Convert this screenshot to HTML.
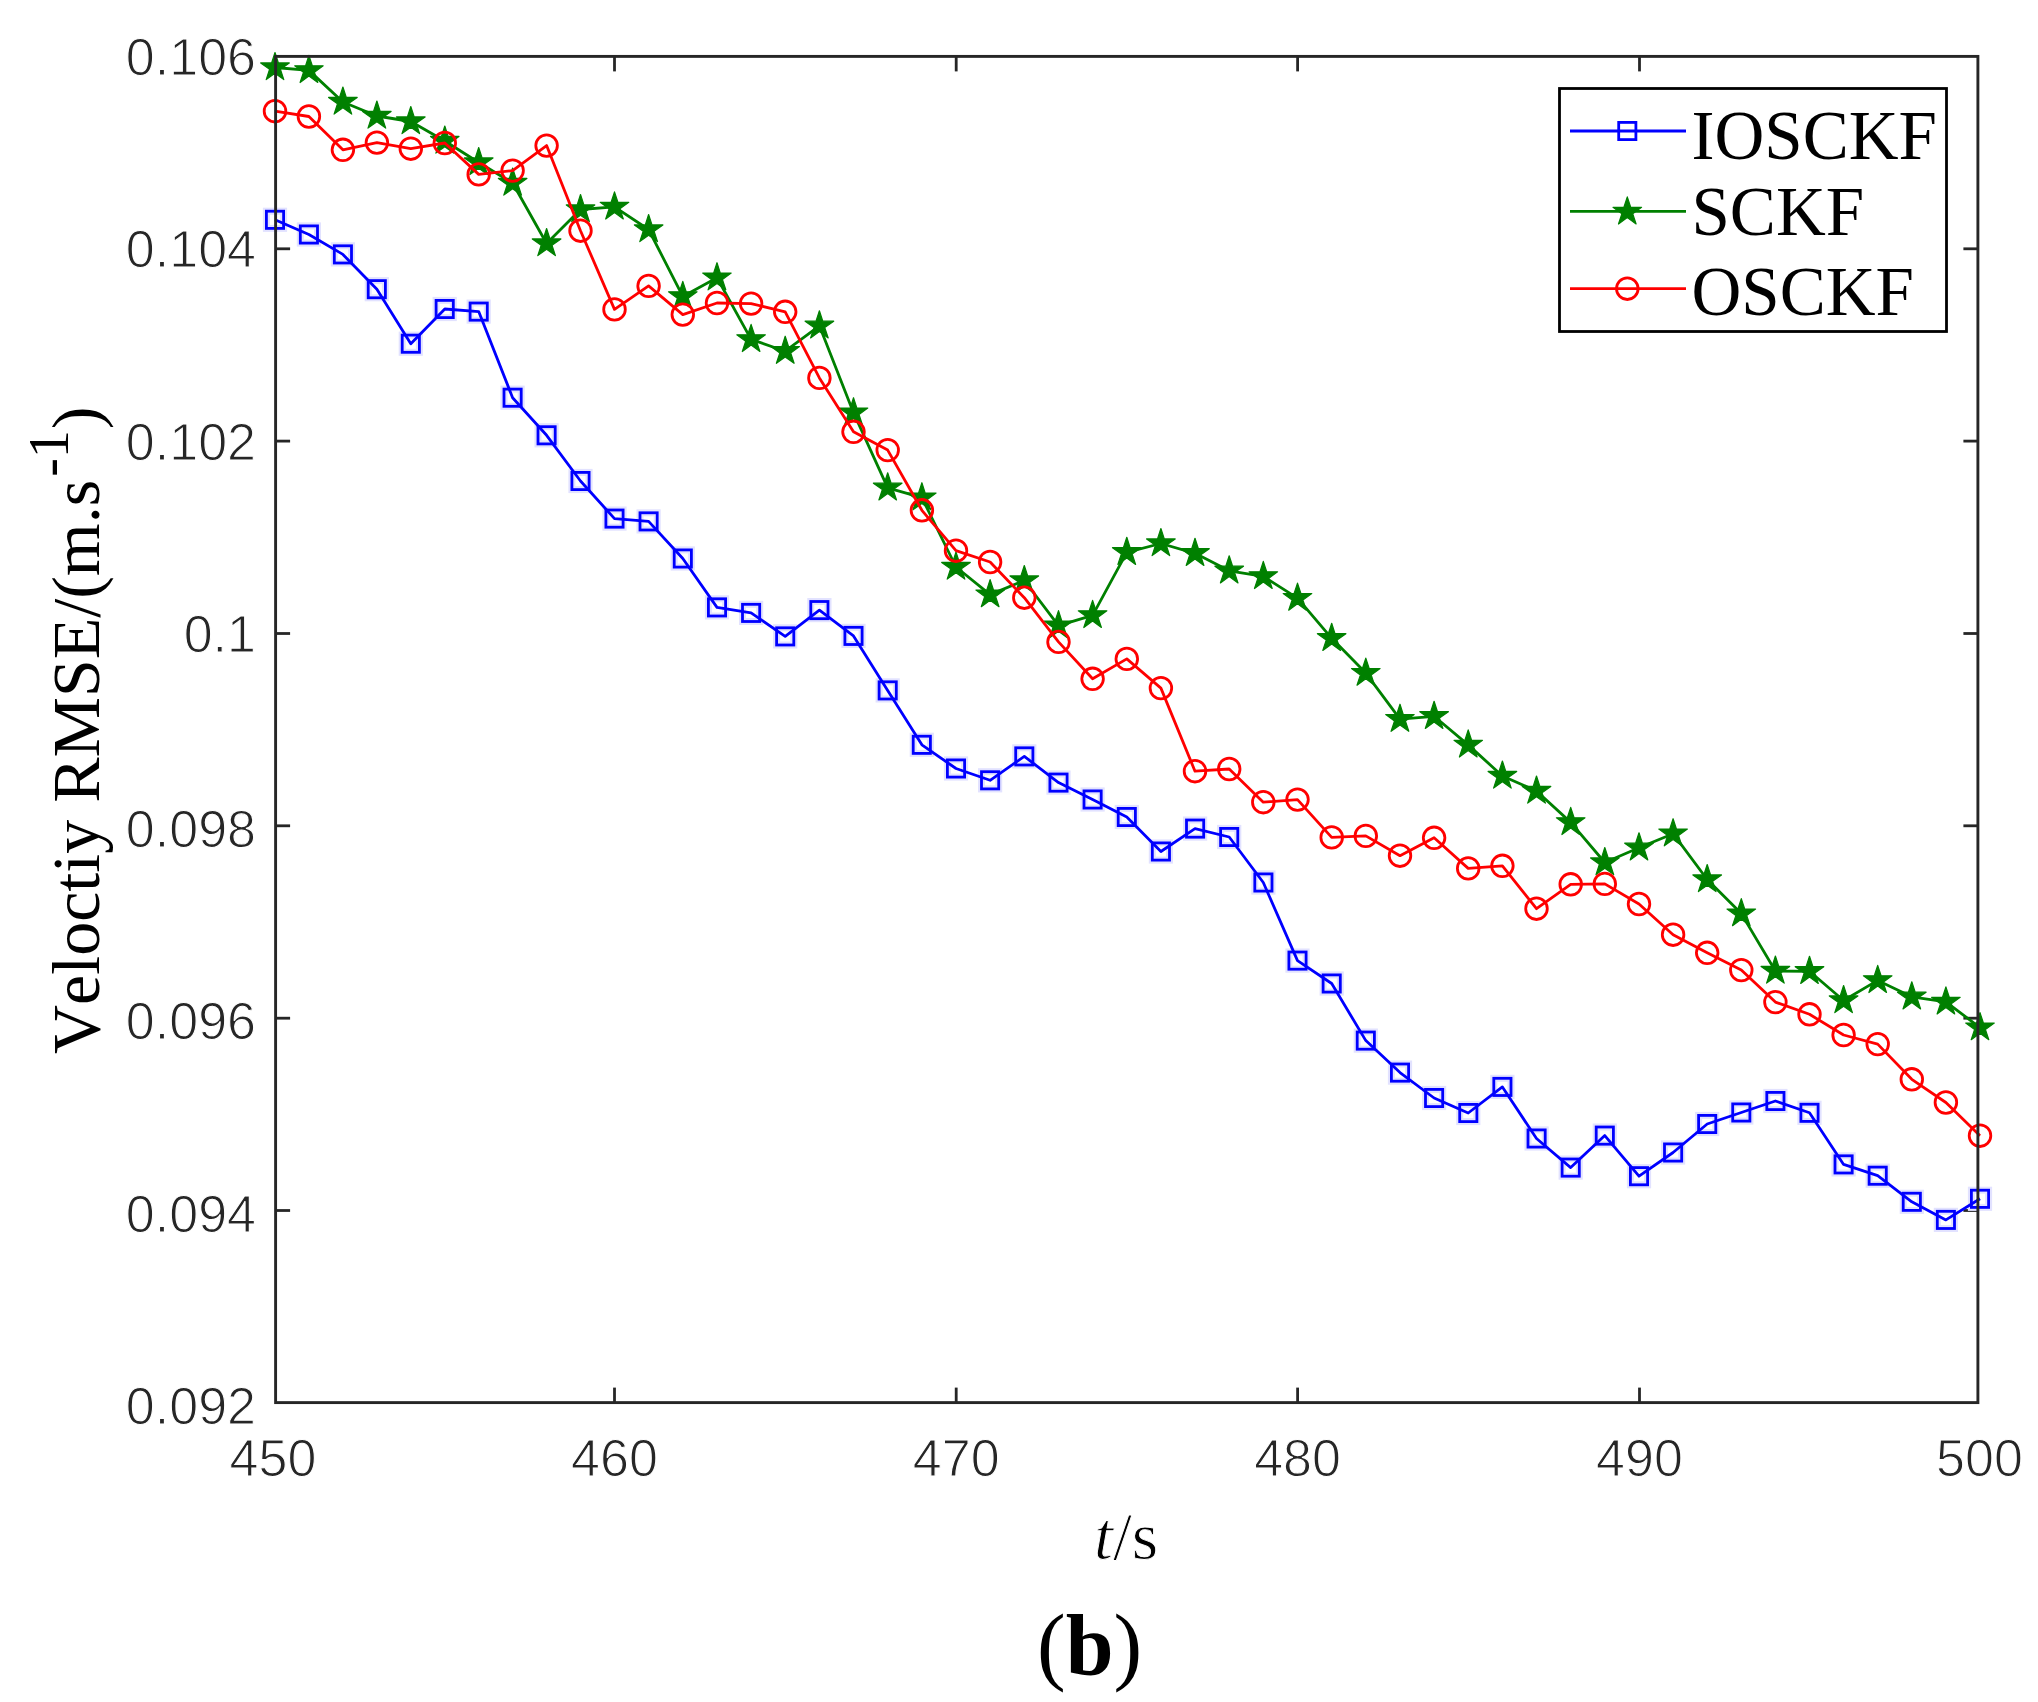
<!DOCTYPE html>
<html><head><meta charset="utf-8"><title>Velocity RMSE</title>
<style>html,body{margin:0;padding:0;background:#fff;}text{font-kerning:none;}svg{display:block;filter:blur(0.6px);}.tk{font-family:"Liberation Sans",Arial,sans-serif;font-size:52px;fill:#262626;stroke:#fff;stroke-width:1.1px;}.lb{font-family:"Liberation Serif","Times New Roman",serif;font-size:68px;fill:#000;}.lg{font-family:"Liberation Serif","Times New Roman",serif;font-size:69px;fill:#000;}</style></head><body>
<svg width="2038" height="1702" viewBox="0 0 2038 1702">
<rect x="0" y="0" width="2038" height="1702" fill="#fff"/>
<g stroke="#262626" stroke-width="2.8" fill="none"><line x1="614.5" y1="1402.6" x2="614.5" y2="1387.6"/><line x1="614.5" y1="56.4" x2="614.5" y2="71.4"/><line x1="956.2" y1="1402.6" x2="956.2" y2="1387.6"/><line x1="956.2" y1="56.4" x2="956.2" y2="71.4"/><line x1="1297.6" y1="1402.6" x2="1297.6" y2="1387.6"/><line x1="1297.6" y1="56.4" x2="1297.6" y2="71.4"/><line x1="1639.5" y1="1402.6" x2="1639.5" y2="1387.6"/><line x1="1639.5" y1="56.4" x2="1639.5" y2="71.4"/><line x1="275.6" y1="248.8" x2="290.1" y2="248.8"/><line x1="1977.9" y1="248.8" x2="1963.4" y2="248.8"/><line x1="275.6" y1="441.1" x2="290.1" y2="441.1"/><line x1="1977.9" y1="441.1" x2="1963.4" y2="441.1"/><line x1="275.6" y1="633.5" x2="290.1" y2="633.5"/><line x1="1977.9" y1="633.5" x2="1963.4" y2="633.5"/><line x1="275.6" y1="825.8" x2="290.1" y2="825.8"/><line x1="1977.9" y1="825.8" x2="1963.4" y2="825.8"/><line x1="275.6" y1="1018.2" x2="290.1" y2="1018.2"/><line x1="1977.9" y1="1018.2" x2="1963.4" y2="1018.2"/><line x1="275.6" y1="1210.5" x2="290.1" y2="1210.5"/><line x1="1977.9" y1="1210.5" x2="1963.4" y2="1210.5"/></g>
<g>
<g fill="none" stroke="#e2e2ff" stroke-width="7"><rect x="266.4" y="211.2" width="17.2" height="17.2"/><rect x="300.3" y="225.9" width="17.2" height="17.2"/><rect x="334.3" y="245.8" width="17.2" height="17.2"/><rect x="368.2" y="280.6" width="17.2" height="17.2"/><rect x="402.2" y="335.1" width="17.2" height="17.2"/><rect x="436.1" y="300.4" width="17.2" height="17.2"/><rect x="470.1" y="303.0" width="17.2" height="17.2"/><rect x="504.0" y="389.1" width="17.2" height="17.2"/><rect x="538.0" y="426.7" width="17.2" height="17.2"/><rect x="571.9" y="472.4" width="17.2" height="17.2"/><rect x="605.9" y="510.0" width="17.2" height="17.2"/><rect x="640.0" y="512.8" width="17.2" height="17.2"/><rect x="674.2" y="549.9" width="17.2" height="17.2"/><rect x="708.4" y="598.8" width="17.2" height="17.2"/><rect x="742.5" y="604.3" width="17.2" height="17.2"/><rect x="776.6" y="627.8" width="17.2" height="17.2"/><rect x="810.8" y="601.5" width="17.2" height="17.2"/><rect x="844.9" y="627.3" width="17.2" height="17.2"/><rect x="879.1" y="681.8" width="17.2" height="17.2"/><rect x="913.2" y="736.2" width="17.2" height="17.2"/><rect x="947.4" y="759.9" width="17.2" height="17.2"/><rect x="981.5" y="771.7" width="17.2" height="17.2"/><rect x="1015.7" y="747.8" width="17.2" height="17.2"/><rect x="1049.9" y="774.0" width="17.2" height="17.2"/><rect x="1084.0" y="790.9" width="17.2" height="17.2"/><rect x="1118.2" y="808.4" width="17.2" height="17.2"/><rect x="1152.3" y="842.9" width="17.2" height="17.2"/><rect x="1186.5" y="820.0" width="17.2" height="17.2"/><rect x="1220.6" y="828.4" width="17.2" height="17.2"/><rect x="1254.8" y="873.9" width="17.2" height="17.2"/><rect x="1288.9" y="952.0" width="17.2" height="17.2"/><rect x="1323.1" y="974.9" width="17.2" height="17.2"/><rect x="1357.2" y="1032.0" width="17.2" height="17.2"/><rect x="1391.4" y="1064.0" width="17.2" height="17.2"/><rect x="1425.5" y="1089.4" width="17.2" height="17.2"/><rect x="1459.7" y="1104.4" width="17.2" height="17.2"/><rect x="1493.8" y="1078.3" width="17.2" height="17.2"/><rect x="1528.0" y="1129.9" width="17.2" height="17.2"/><rect x="1562.1" y="1159.0" width="17.2" height="17.2"/><rect x="1596.2" y="1127.0" width="17.2" height="17.2"/><rect x="1630.4" y="1167.6" width="17.2" height="17.2"/><rect x="1664.5" y="1143.9" width="17.2" height="17.2"/><rect x="1698.6" y="1115.4" width="17.2" height="17.2"/><rect x="1732.7" y="1103.9" width="17.2" height="17.2"/><rect x="1766.8" y="1092.4" width="17.2" height="17.2"/><rect x="1800.9" y="1104.2" width="17.2" height="17.2"/><rect x="1835.0" y="1155.8" width="17.2" height="17.2"/><rect x="1869.1" y="1167.1" width="17.2" height="17.2"/><rect x="1903.2" y="1193.2" width="17.2" height="17.2"/><rect x="1937.3" y="1211.3" width="17.2" height="17.2"/><rect x="1971.4" y="1190.2" width="17.2" height="17.2"/></g>
<polyline points="275.0,219.8 308.9,234.5 342.9,254.4 376.9,289.2 410.8,343.7 444.8,309.0 478.7,311.6 512.6,397.7 546.6,435.3 580.5,481.0 614.5,518.6 648.6,521.4 682.8,558.5 717.0,607.4 751.1,612.9 785.2,636.4 819.4,610.1 853.5,635.9 887.7,690.4 921.9,744.8 956.0,768.5 990.1,780.3 1024.3,756.4 1058.5,782.6 1092.6,799.5 1126.8,817.0 1160.9,851.5 1195.0,828.6 1229.2,837.0 1263.3,882.5 1297.5,960.6 1331.7,983.5 1365.8,1040.6 1400.0,1072.6 1434.1,1098.0 1468.2,1113.0 1502.4,1086.9 1536.5,1138.5 1570.7,1167.6 1604.8,1135.6 1639.0,1176.2 1673.1,1152.5 1707.2,1124.0 1741.3,1112.5 1775.4,1101.0 1809.5,1112.8 1843.6,1164.4 1877.7,1175.7 1911.8,1201.8 1945.9,1219.9 1980.0,1198.8" fill="none" stroke="#0000ff" stroke-width="2.8" stroke-linejoin="round"/>
<g fill="none" stroke="#0000ff" stroke-width="2.8"><rect x="266.4" y="211.2" width="17.2" height="17.2"/><rect x="300.3" y="225.9" width="17.2" height="17.2"/><rect x="334.3" y="245.8" width="17.2" height="17.2"/><rect x="368.2" y="280.6" width="17.2" height="17.2"/><rect x="402.2" y="335.1" width="17.2" height="17.2"/><rect x="436.1" y="300.4" width="17.2" height="17.2"/><rect x="470.1" y="303.0" width="17.2" height="17.2"/><rect x="504.0" y="389.1" width="17.2" height="17.2"/><rect x="538.0" y="426.7" width="17.2" height="17.2"/><rect x="571.9" y="472.4" width="17.2" height="17.2"/><rect x="605.9" y="510.0" width="17.2" height="17.2"/><rect x="640.0" y="512.8" width="17.2" height="17.2"/><rect x="674.2" y="549.9" width="17.2" height="17.2"/><rect x="708.4" y="598.8" width="17.2" height="17.2"/><rect x="742.5" y="604.3" width="17.2" height="17.2"/><rect x="776.6" y="627.8" width="17.2" height="17.2"/><rect x="810.8" y="601.5" width="17.2" height="17.2"/><rect x="844.9" y="627.3" width="17.2" height="17.2"/><rect x="879.1" y="681.8" width="17.2" height="17.2"/><rect x="913.2" y="736.2" width="17.2" height="17.2"/><rect x="947.4" y="759.9" width="17.2" height="17.2"/><rect x="981.5" y="771.7" width="17.2" height="17.2"/><rect x="1015.7" y="747.8" width="17.2" height="17.2"/><rect x="1049.9" y="774.0" width="17.2" height="17.2"/><rect x="1084.0" y="790.9" width="17.2" height="17.2"/><rect x="1118.2" y="808.4" width="17.2" height="17.2"/><rect x="1152.3" y="842.9" width="17.2" height="17.2"/><rect x="1186.5" y="820.0" width="17.2" height="17.2"/><rect x="1220.6" y="828.4" width="17.2" height="17.2"/><rect x="1254.8" y="873.9" width="17.2" height="17.2"/><rect x="1288.9" y="952.0" width="17.2" height="17.2"/><rect x="1323.1" y="974.9" width="17.2" height="17.2"/><rect x="1357.2" y="1032.0" width="17.2" height="17.2"/><rect x="1391.4" y="1064.0" width="17.2" height="17.2"/><rect x="1425.5" y="1089.4" width="17.2" height="17.2"/><rect x="1459.7" y="1104.4" width="17.2" height="17.2"/><rect x="1493.8" y="1078.3" width="17.2" height="17.2"/><rect x="1528.0" y="1129.9" width="17.2" height="17.2"/><rect x="1562.1" y="1159.0" width="17.2" height="17.2"/><rect x="1596.2" y="1127.0" width="17.2" height="17.2"/><rect x="1630.4" y="1167.6" width="17.2" height="17.2"/><rect x="1664.5" y="1143.9" width="17.2" height="17.2"/><rect x="1698.6" y="1115.4" width="17.2" height="17.2"/><rect x="1732.7" y="1103.9" width="17.2" height="17.2"/><rect x="1766.8" y="1092.4" width="17.2" height="17.2"/><rect x="1800.9" y="1104.2" width="17.2" height="17.2"/><rect x="1835.0" y="1155.8" width="17.2" height="17.2"/><rect x="1869.1" y="1167.1" width="17.2" height="17.2"/><rect x="1903.2" y="1193.2" width="17.2" height="17.2"/><rect x="1937.3" y="1211.3" width="17.2" height="17.2"/><rect x="1971.4" y="1190.2" width="17.2" height="17.2"/></g>
<polyline points="275.0,67.5 308.9,70.4 342.9,102.0 376.9,116.0 410.8,121.5 444.8,141.0 478.7,162.5 512.6,183.0 546.6,243.5 580.5,209.5 614.5,206.9 648.6,229.5 682.8,296.4 717.0,277.7 751.1,339.4 785.2,351.2 819.4,325.8 853.5,412.7 887.7,487.8 921.9,497.7 956.0,567.0 990.1,594.6 1024.3,580.5 1058.5,625.6 1092.6,615.4 1126.8,552.3 1160.9,543.5 1195.0,553.3 1229.2,570.8 1263.3,576.4 1297.5,598.1 1331.7,638.3 1365.8,673.1 1400.0,719.2 1434.1,716.3 1468.2,744.9 1502.4,776.0 1536.5,791.0 1570.7,822.4 1604.8,862.5 1639.0,847.8 1673.1,833.7 1707.2,879.5 1741.3,913.6 1775.4,971.0 1809.5,971.3 1843.6,1000.5 1877.7,980.4 1911.8,996.8 1945.9,1001.9 1980.0,1027.6" fill="none" stroke="#008000" stroke-width="2.8" stroke-linejoin="round"/>
<g fill="#008000" stroke="#008000" stroke-width="1.2" stroke-linejoin="round"><path d="M275.0 52.5 L278.4 62.9 L289.3 62.9 L280.4 69.3 L283.8 79.6 L275.0 73.2 L266.2 79.6 L269.6 69.3 L260.7 62.9 L271.6 62.9 Z"/><path d="M308.9 55.4 L312.3 65.8 L323.2 65.8 L314.4 72.2 L317.8 82.5 L308.9 76.1 L300.1 82.5 L303.5 72.2 L294.7 65.8 L305.6 65.8 Z"/><path d="M342.9 87.0 L346.3 97.4 L357.2 97.4 L348.3 103.8 L351.7 114.1 L342.9 107.7 L334.1 114.1 L337.5 103.8 L328.6 97.4 L339.5 97.4 Z"/><path d="M376.9 101.0 L380.2 111.4 L391.1 111.4 L382.3 117.8 L385.7 128.1 L376.9 121.7 L368.0 128.1 L371.4 117.8 L362.6 111.4 L373.5 111.4 Z"/><path d="M410.8 106.5 L414.2 116.9 L425.1 116.9 L416.2 123.3 L419.6 133.6 L410.8 127.2 L402.0 133.6 L405.4 123.3 L396.5 116.9 L407.4 116.9 Z"/><path d="M444.8 126.0 L448.1 136.4 L459.0 136.4 L450.2 142.8 L453.6 153.1 L444.8 146.7 L435.9 153.1 L439.3 142.8 L430.5 136.4 L441.4 136.4 Z"/><path d="M478.7 147.5 L482.1 157.9 L493.0 157.9 L484.1 164.3 L487.5 174.6 L478.7 168.2 L469.9 174.6 L473.3 164.3 L464.4 157.9 L475.3 157.9 Z"/><path d="M512.6 168.0 L516.0 178.4 L526.9 178.4 L518.1 184.8 L521.5 195.1 L512.6 188.7 L503.8 195.1 L507.2 184.8 L498.4 178.4 L509.3 178.4 Z"/><path d="M546.6 228.5 L550.0 238.9 L560.9 238.9 L552.0 245.3 L555.4 255.6 L546.6 249.2 L537.8 255.6 L541.2 245.3 L532.3 238.9 L543.2 238.9 Z"/><path d="M580.5 194.5 L583.9 204.9 L594.8 204.9 L586.0 211.3 L589.4 221.6 L580.5 215.2 L571.7 221.6 L575.1 211.3 L566.3 204.9 L577.2 204.9 Z"/><path d="M614.5 191.9 L617.9 202.3 L628.8 202.3 L619.9 208.7 L623.3 219.0 L614.5 212.6 L605.7 219.0 L609.1 208.7 L600.2 202.3 L611.1 202.3 Z"/><path d="M648.6 214.5 L652.0 224.9 L662.9 224.9 L654.1 231.3 L657.5 241.6 L648.6 235.2 L639.8 241.6 L643.2 231.3 L634.4 224.9 L645.3 224.9 Z"/><path d="M682.8 281.4 L686.2 291.8 L697.1 291.8 L688.2 298.2 L691.6 308.5 L682.8 302.1 L674.0 308.5 L677.4 298.2 L668.5 291.8 L679.4 291.8 Z"/><path d="M717.0 262.7 L720.3 273.1 L731.2 273.1 L722.4 279.5 L725.8 289.8 L717.0 283.4 L708.1 289.8 L711.5 279.5 L702.7 273.1 L713.6 273.1 Z"/><path d="M751.1 324.4 L754.5 334.8 L765.4 334.8 L756.5 341.2 L759.9 351.5 L751.1 345.1 L742.3 351.5 L745.7 341.2 L736.8 334.8 L747.7 334.8 Z"/><path d="M785.2 336.2 L788.6 346.6 L799.5 346.6 L790.7 353.0 L794.1 363.3 L785.2 356.9 L776.4 363.3 L779.8 353.0 L771.0 346.6 L781.9 346.6 Z"/><path d="M819.4 310.8 L822.8 321.2 L833.7 321.2 L824.8 327.6 L828.2 337.9 L819.4 331.5 L810.6 337.9 L814.0 327.6 L805.1 321.2 L816.0 321.2 Z"/><path d="M853.5 397.7 L856.9 408.1 L867.8 408.1 L859.0 414.5 L862.4 424.8 L853.5 418.4 L844.7 424.8 L848.1 414.5 L839.3 408.1 L850.2 408.1 Z"/><path d="M887.7 472.8 L891.1 483.2 L902.0 483.2 L893.1 489.6 L896.5 499.9 L887.7 493.5 L878.9 499.9 L882.3 489.6 L873.4 483.2 L884.3 483.2 Z"/><path d="M921.9 482.7 L925.2 493.1 L936.1 493.1 L927.3 499.5 L930.7 509.8 L921.9 503.4 L913.0 509.8 L916.4 499.5 L907.6 493.1 L918.5 493.1 Z"/><path d="M956.0 552.0 L959.4 562.4 L970.3 562.4 L961.4 568.8 L964.8 579.1 L956.0 572.7 L947.2 579.1 L950.6 568.8 L941.7 562.4 L952.6 562.4 Z"/><path d="M990.1 579.6 L993.5 590.0 L1004.4 590.0 L995.6 596.4 L999.0 606.7 L990.1 600.3 L981.3 606.7 L984.7 596.4 L975.9 590.0 L986.8 590.0 Z"/><path d="M1024.3 565.5 L1027.7 575.9 L1038.6 575.9 L1029.7 582.3 L1033.1 592.6 L1024.3 586.2 L1015.5 592.6 L1018.9 582.3 L1010.0 575.9 L1020.9 575.9 Z"/><path d="M1058.5 610.6 L1061.8 621.0 L1072.7 621.0 L1063.9 627.4 L1067.3 637.7 L1058.5 631.3 L1049.6 637.7 L1053.0 627.4 L1044.2 621.0 L1055.1 621.0 Z"/><path d="M1092.6 600.4 L1096.0 610.8 L1106.9 610.8 L1098.0 617.2 L1101.4 627.5 L1092.6 621.1 L1083.8 627.5 L1087.2 617.2 L1078.3 610.8 L1089.2 610.8 Z"/><path d="M1126.8 537.3 L1130.1 547.7 L1141.0 547.7 L1132.2 554.1 L1135.6 564.4 L1126.8 558.0 L1117.9 564.4 L1121.3 554.1 L1112.5 547.7 L1123.4 547.7 Z"/><path d="M1160.9 528.5 L1164.3 538.9 L1175.2 538.9 L1166.3 545.3 L1169.7 555.6 L1160.9 549.2 L1152.1 555.6 L1155.5 545.3 L1146.6 538.9 L1157.5 538.9 Z"/><path d="M1195.0 538.3 L1198.4 548.7 L1209.3 548.7 L1200.5 555.1 L1203.9 565.4 L1195.0 559.0 L1186.2 565.4 L1189.6 555.1 L1180.8 548.7 L1191.7 548.7 Z"/><path d="M1229.2 555.8 L1232.6 566.2 L1243.5 566.2 L1234.6 572.6 L1238.0 582.9 L1229.2 576.5 L1220.4 582.9 L1223.8 572.6 L1214.9 566.2 L1225.8 566.2 Z"/><path d="M1263.3 561.4 L1266.7 571.8 L1277.6 571.8 L1268.8 578.2 L1272.2 588.5 L1263.3 582.1 L1254.5 588.5 L1257.9 578.2 L1249.1 571.8 L1260.0 571.8 Z"/><path d="M1297.5 583.1 L1300.9 593.5 L1311.8 593.5 L1302.9 599.9 L1306.3 610.2 L1297.5 603.8 L1288.7 610.2 L1292.1 599.9 L1283.2 593.5 L1294.1 593.5 Z"/><path d="M1331.7 623.3 L1335.0 633.7 L1345.9 633.7 L1337.1 640.1 L1340.5 650.4 L1331.7 644.0 L1322.8 650.4 L1326.2 640.1 L1317.4 633.7 L1328.3 633.7 Z"/><path d="M1365.8 658.1 L1369.2 668.5 L1380.1 668.5 L1371.2 674.9 L1374.6 685.2 L1365.8 678.8 L1357.0 685.2 L1360.4 674.9 L1351.5 668.5 L1362.4 668.5 Z"/><path d="M1400.0 704.2 L1403.3 714.6 L1414.2 714.6 L1405.4 721.0 L1408.8 731.3 L1400.0 724.9 L1391.1 731.3 L1394.5 721.0 L1385.7 714.6 L1396.6 714.6 Z"/><path d="M1434.1 701.3 L1437.5 711.7 L1448.4 711.7 L1439.5 718.1 L1442.9 728.4 L1434.1 722.0 L1425.3 728.4 L1428.7 718.1 L1419.8 711.7 L1430.7 711.7 Z"/><path d="M1468.2 729.9 L1471.6 740.3 L1482.5 740.3 L1473.7 746.7 L1477.1 757.0 L1468.2 750.6 L1459.4 757.0 L1462.8 746.7 L1454.0 740.3 L1464.9 740.3 Z"/><path d="M1502.4 761.0 L1505.8 771.4 L1516.7 771.4 L1507.8 777.8 L1511.2 788.1 L1502.4 781.7 L1493.6 788.1 L1497.0 777.8 L1488.1 771.4 L1499.0 771.4 Z"/><path d="M1536.5 776.0 L1539.9 786.4 L1550.8 786.4 L1542.0 792.8 L1545.4 803.1 L1536.5 796.7 L1527.7 803.1 L1531.1 792.8 L1522.3 786.4 L1533.2 786.4 Z"/><path d="M1570.7 807.4 L1574.1 817.8 L1585.0 817.8 L1576.1 824.2 L1579.5 834.5 L1570.7 828.1 L1561.9 834.5 L1565.3 824.2 L1556.4 817.8 L1567.3 817.8 Z"/><path d="M1604.8 847.5 L1608.2 857.9 L1619.1 857.9 L1610.3 864.3 L1613.7 874.6 L1604.8 868.2 L1596.0 874.6 L1599.4 864.3 L1590.6 857.9 L1601.5 857.9 Z"/><path d="M1639.0 832.8 L1642.4 843.2 L1653.3 843.2 L1644.4 849.6 L1647.8 859.9 L1639.0 853.5 L1630.2 859.9 L1633.6 849.6 L1624.7 843.2 L1635.6 843.2 Z"/><path d="M1673.1 818.7 L1676.5 829.1 L1687.4 829.1 L1678.5 835.5 L1681.9 845.8 L1673.1 839.4 L1664.3 845.8 L1667.7 835.5 L1658.8 829.1 L1669.7 829.1 Z"/><path d="M1707.2 864.5 L1710.6 874.9 L1721.5 874.9 L1712.6 881.3 L1716.0 891.6 L1707.2 885.2 L1698.4 891.6 L1701.8 881.3 L1692.9 874.9 L1703.8 874.9 Z"/><path d="M1741.3 898.6 L1744.7 909.0 L1755.6 909.0 L1746.7 915.4 L1750.1 925.7 L1741.3 919.3 L1732.5 925.7 L1735.9 915.4 L1727.0 909.0 L1737.9 909.0 Z"/><path d="M1775.4 956.0 L1778.8 966.4 L1789.7 966.4 L1780.8 972.8 L1784.2 983.1 L1775.4 976.7 L1766.6 983.1 L1770.0 972.8 L1761.1 966.4 L1772.0 966.4 Z"/><path d="M1809.5 956.3 L1812.9 966.7 L1823.8 966.7 L1814.9 973.1 L1818.3 983.4 L1809.5 977.0 L1800.7 983.4 L1804.1 973.1 L1795.2 966.7 L1806.1 966.7 Z"/><path d="M1843.6 985.5 L1847.0 995.9 L1857.9 995.9 L1849.0 1002.3 L1852.4 1012.6 L1843.6 1006.2 L1834.8 1012.6 L1838.2 1002.3 L1829.3 995.9 L1840.2 995.9 Z"/><path d="M1877.7 965.4 L1881.1 975.8 L1892.0 975.8 L1883.1 982.2 L1886.5 992.5 L1877.7 986.1 L1868.9 992.5 L1872.3 982.2 L1863.4 975.8 L1874.3 975.8 Z"/><path d="M1911.8 981.8 L1915.2 992.2 L1926.1 992.2 L1917.2 998.6 L1920.6 1008.9 L1911.8 1002.5 L1903.0 1008.9 L1906.4 998.6 L1897.5 992.2 L1908.4 992.2 Z"/><path d="M1945.9 986.9 L1949.3 997.3 L1960.2 997.3 L1951.3 1003.7 L1954.7 1014.0 L1945.9 1007.6 L1937.1 1014.0 L1940.5 1003.7 L1931.6 997.3 L1942.5 997.3 Z"/><path d="M1980.0 1012.6 L1983.4 1023.0 L1994.3 1023.0 L1985.4 1029.4 L1988.8 1039.7 L1980.0 1033.3 L1971.2 1039.7 L1974.6 1029.4 L1965.7 1023.0 L1976.6 1023.0 Z"/></g>
<polyline points="275.0,111.2 308.9,116.5 342.9,149.8 376.9,142.6 410.8,148.7 444.8,143.0 478.7,174.4 512.6,170.6 546.6,145.6 580.5,230.7 614.5,309.4 648.6,285.9 682.8,314.6 717.0,303.0 751.1,303.6 785.2,311.8 819.4,377.9 853.5,431.8 887.7,450.1 921.9,510.3 956.0,550.7 990.1,562.0 1024.3,597.7 1058.5,641.9 1092.6,678.8 1126.8,658.9 1160.9,688.1 1195.0,771.2 1229.2,769.0 1263.3,802.2 1297.5,799.6 1331.7,837.4 1365.8,835.9 1400.0,855.7 1434.1,837.8 1468.2,868.4 1502.4,865.8 1536.5,908.7 1570.7,884.3 1604.8,883.9 1639.0,904.0 1673.1,934.7 1707.2,952.8 1741.3,970.1 1775.4,1002.1 1809.5,1014.3 1843.6,1035.0 1877.7,1044.1 1911.8,1079.3 1945.9,1102.5 1980.0,1135.7" fill="none" stroke="#ff0000" stroke-width="2.8" stroke-linejoin="round"/>
<g fill="none" stroke="#ff0000" stroke-width="2.8"><circle cx="275.0" cy="111.2" r="10.8"/><circle cx="308.9" cy="116.5" r="10.8"/><circle cx="342.9" cy="149.8" r="10.8"/><circle cx="376.9" cy="142.6" r="10.8"/><circle cx="410.8" cy="148.7" r="10.8"/><circle cx="444.8" cy="143.0" r="10.8"/><circle cx="478.7" cy="174.4" r="10.8"/><circle cx="512.6" cy="170.6" r="10.8"/><circle cx="546.6" cy="145.6" r="10.8"/><circle cx="580.5" cy="230.7" r="10.8"/><circle cx="614.5" cy="309.4" r="10.8"/><circle cx="648.6" cy="285.9" r="10.8"/><circle cx="682.8" cy="314.6" r="10.8"/><circle cx="717.0" cy="303.0" r="10.8"/><circle cx="751.1" cy="303.6" r="10.8"/><circle cx="785.2" cy="311.8" r="10.8"/><circle cx="819.4" cy="377.9" r="10.8"/><circle cx="853.5" cy="431.8" r="10.8"/><circle cx="887.7" cy="450.1" r="10.8"/><circle cx="921.9" cy="510.3" r="10.8"/><circle cx="956.0" cy="550.7" r="10.8"/><circle cx="990.1" cy="562.0" r="10.8"/><circle cx="1024.3" cy="597.7" r="10.8"/><circle cx="1058.5" cy="641.9" r="10.8"/><circle cx="1092.6" cy="678.8" r="10.8"/><circle cx="1126.8" cy="658.9" r="10.8"/><circle cx="1160.9" cy="688.1" r="10.8"/><circle cx="1195.0" cy="771.2" r="10.8"/><circle cx="1229.2" cy="769.0" r="10.8"/><circle cx="1263.3" cy="802.2" r="10.8"/><circle cx="1297.5" cy="799.6" r="10.8"/><circle cx="1331.7" cy="837.4" r="10.8"/><circle cx="1365.8" cy="835.9" r="10.8"/><circle cx="1400.0" cy="855.7" r="10.8"/><circle cx="1434.1" cy="837.8" r="10.8"/><circle cx="1468.2" cy="868.4" r="10.8"/><circle cx="1502.4" cy="865.8" r="10.8"/><circle cx="1536.5" cy="908.7" r="10.8"/><circle cx="1570.7" cy="884.3" r="10.8"/><circle cx="1604.8" cy="883.9" r="10.8"/><circle cx="1639.0" cy="904.0" r="10.8"/><circle cx="1673.1" cy="934.7" r="10.8"/><circle cx="1707.2" cy="952.8" r="10.8"/><circle cx="1741.3" cy="970.1" r="10.8"/><circle cx="1775.4" cy="1002.1" r="10.8"/><circle cx="1809.5" cy="1014.3" r="10.8"/><circle cx="1843.6" cy="1035.0" r="10.8"/><circle cx="1877.7" cy="1044.1" r="10.8"/><circle cx="1911.8" cy="1079.3" r="10.8"/><circle cx="1945.9" cy="1102.5" r="10.8"/><circle cx="1980.0" cy="1135.7" r="10.8"/></g>
</g>
<rect x="275.6" y="56.4" width="1702.3" height="1346.2" fill="none" stroke="#262626" stroke-width="2.9"/>
<text class="tk" x="273.0" y="1476" text-anchor="middle">450</text>
<text class="tk" x="614.5" y="1476" text-anchor="middle">460</text>
<text class="tk" x="956.2" y="1476" text-anchor="middle">470</text>
<text class="tk" x="1297.6" y="1476" text-anchor="middle">480</text>
<text class="tk" x="1639.5" y="1476" text-anchor="middle">490</text>
<text class="tk" x="1979.5" y="1476" text-anchor="middle">500</text>
<text class="tk" x="256" y="74.9" text-anchor="end">0.106</text>
<text class="tk" x="256" y="267.1" text-anchor="end">0.104</text>
<text class="tk" x="256" y="459.5" text-anchor="end">0.102</text>
<text class="tk" x="256" y="652.0" text-anchor="end">0.1</text>
<text class="tk" x="256" y="847.1" text-anchor="end">0.098</text>
<text class="tk" x="256" y="1039.4" text-anchor="end">0.096</text>
<text class="tk" x="256" y="1231.7" text-anchor="end">0.094</text>
<text class="tk" x="256" y="1424.0" text-anchor="end">0.092</text>
<text class="lb" transform="translate(98.5,1054) rotate(-90)">Veloctiy RMSE/(m.s<tspan dx="3" dy="-31" font-size="56">-1</tspan><tspan dx="1" dy="31">)</tspan></text>
<text class="lb" x="1094" y="1559" style="stroke:#fff;stroke-width:0.9px"><tspan font-style="italic">t</tspan>/s</text>
<text x="1037" y="1673.5" style="font-family:'Liberation Serif','Times New Roman',serif;font-size:86px;fill:#000">(<tspan font-weight="bold">b</tspan>)</text>
<rect x="1559.5" y="88.5" width="387" height="243" fill="#fff" stroke="#000" stroke-width="2.8"/>
<line x1="1570" y1="131.0" x2="1686" y2="131.0" stroke="#0000ff" stroke-width="2.8"/>
<rect x="1618.7" y="122.4" width="17.2" height="17.2" fill="none" stroke="#0000ff" stroke-width="2.8"/>
<text class="lg" x="1691.5" y="158.5">IOSCKF</text>
<line x1="1570" y1="211.4" x2="1686" y2="211.4" stroke="#008000" stroke-width="2.8"/>
<path d="M1627.3 196.9 L1630.7 207.3 L1641.6 207.3 L1632.7 213.7 L1636.1 224.0 L1627.3 217.6 L1618.5 224.0 L1621.9 213.7 L1613.0 207.3 L1623.9 207.3 Z" fill="#008000" stroke="#008000" stroke-width="1.2" stroke-linejoin="round"/>
<text class="lg" x="1691.5" y="235.3">SCKF</text>
<line x1="1570" y1="288.7" x2="1686" y2="288.7" stroke="#ff0000" stroke-width="2.8"/>
<circle cx="1627.3" cy="288.7" r="10.8" fill="none" stroke="#ff0000" stroke-width="2.8"/>
<text class="lg" x="1691.5" y="315.0">OSCKF</text>
</svg></body></html>
